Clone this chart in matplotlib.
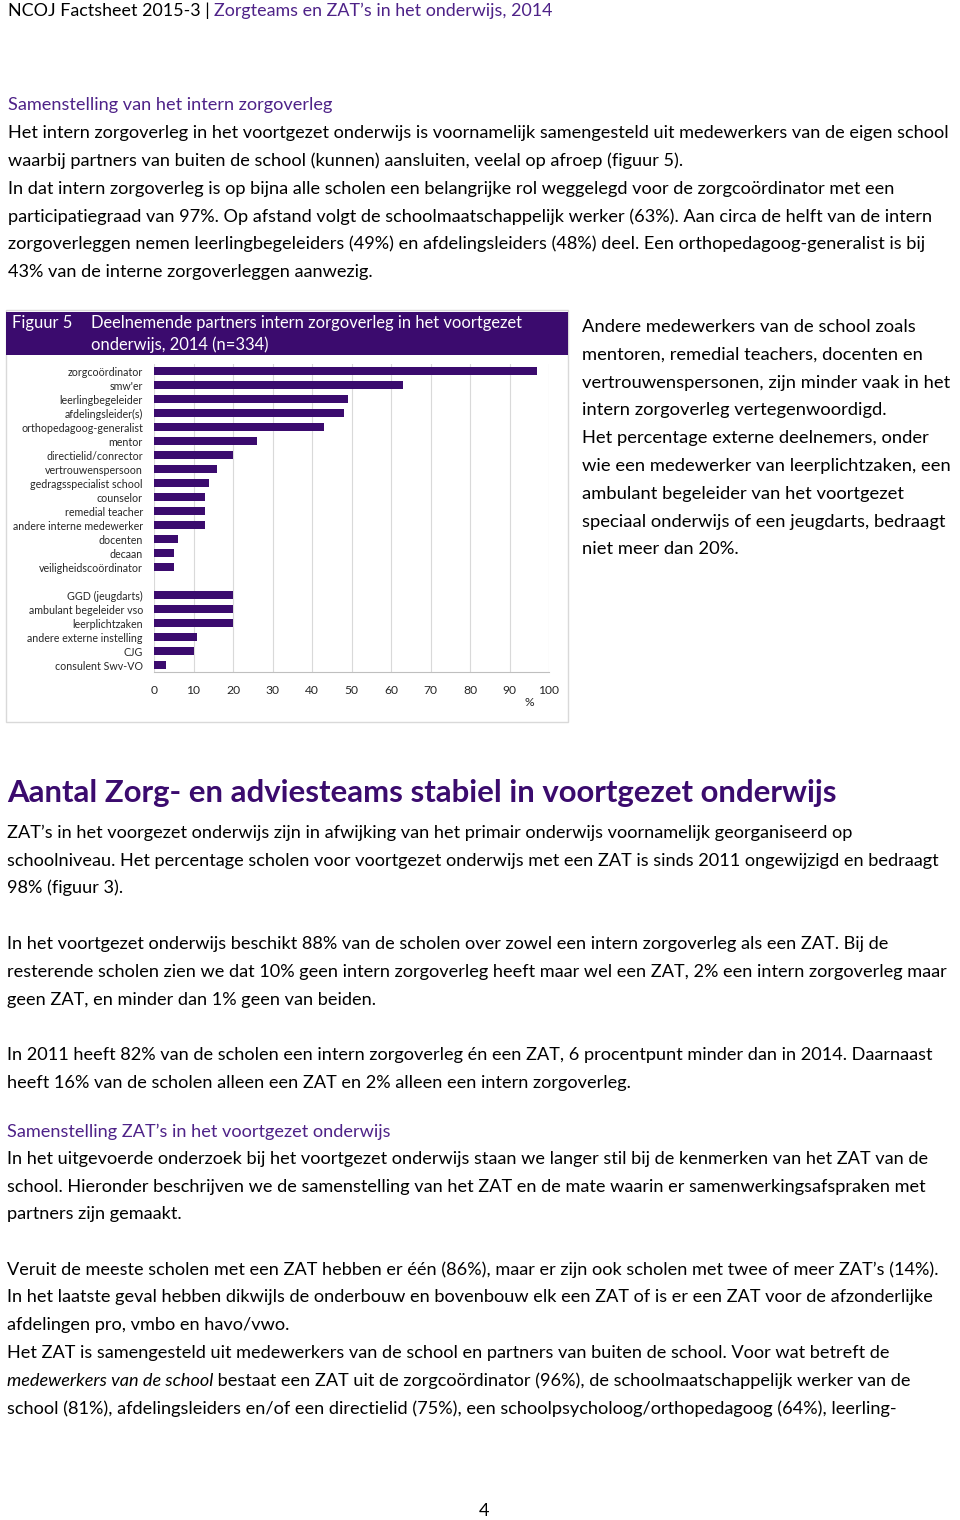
import numpy as np
import matplotlib
matplotlib.use("Agg")
import matplotlib.pyplot as plt
from matplotlib.patches import Rectangle

plt.rcParams['font.family'] = ['Lato', 'DejaVu Sans']

# chart data (percent of schools, figuur 5)
intern_labels = ["zorgcoördinator", "smw'er", "leerlingbegeleider", "afdelingsleider(s)",
                 "orthopedagoog-generalist", "mentor", "directielid/conrector",
                 "vertrouwenspersoon", "gedragsspecialist school", "counselor",
                 "remedial teacher", "andere interne medewerker", "docenten", "decaan",
                 "veiligheidscoördinator"]
intern_values = [97, 63, 49, 48, 43, 26, 20, 16, 14, 13, 13, 13, 6, 5, 5]
extern_labels = ["GGD (jeugdarts)", "ambulant begeleider vso", "leerplichtzaken",
                 "andere externe instelling", "CJG", "consulent Swv-VO"]
extern_values = [20, 20, 20, 11, 10, 3]
x_ticks = [0, 10, 20, 30, 40, 50, 60, 70, 80, 90, 100]

PURPLE = '#3B0B6E'
SUB = '#4E2288'
W, H = 960, 1520
BODY = 13.1

fig = plt.figure(figsize=(W / 100, H / 100), dpi=100)
fig.patch.set_facecolor('white')


def fx(x):
    return x / W


def fy(y):
    return 1 - y / H


def txt(x, y, s, size=BODY, color='black', **kw):
    return fig.text(fx(x), fy(y), s, fontsize=size, color=color, va='center', ha=kw.pop('ha', 'left'), **kw)


def runs(x, y, parts, size=BODY):
    # draw pieces of one line one after another
    r = fig.canvas.get_renderer()
    for s, color, style in parts:
        t = txt(x, y, s, size=size, color=color, style=style)
        bb = t.get_window_extent(renderer=r)
        x += bb.width


# header
runs(8, 11, [("NCOJ Factsheet 2015-3 | ", 'black', 'normal'),
             ("Zorgteams en ZAT’s in het onderwijs, 2014", SUB, 'normal')], size=12.9)

txt(8, 105, "Samenstelling van het intern zorgoverleg", color=SUB)
para1 = [
    "Het intern zorgoverleg in het voortgezet onderwijs is voornamelijk samengesteld uit medewerkers van de eigen school",
    "waarbij partners van buiten de school (kunnen) aansluiten, veelal op afroep (figuur 5).",
    "In dat intern zorgoverleg is op bijna alle scholen een belangrijke rol weggelegd voor de zorgcoördinator met een",
    "participatiegraad van 97%. Op afstand volgt de schoolmaatschappelijk werker (63%). Aan circa de helft van de intern",
    "zorgoverleggen nemen leerlingbegeleiders (49%) en afdelingsleiders (48%) deel. Een orthopedagoog-generalist is bij",
    "43% van de interne zorgoverleggen aanwezig.",
]
for i, s in enumerate(para1):
    txt(8, 133 + i * 27.8, s)

# right column
side = [
    "Andere medewerkers van de school zoals",
    "mentoren, remedial teachers, docenten en",
    "vertrouwenspersonen, zijn minder vaak in het",
    "intern zorgoverleg vertegenwoordigd.",
    "Het percentage externe deelnemers, onder",
    "wie een medewerker van leerplichtzaken, een",
    "ambulant begeleider van het voortgezet",
    "speciaal onderwijs of een jeugdarts, bedraagt",
    "niet meer dan 20%.",
]
for i, s in enumerate(side):
    txt(582, 327 + i * 27.8, s, size=13.2)

# figure frame and title band
fig.patches.append(Rectangle((fx(6), fy(722)), fx(562), 412 / H, transform=fig.transFigure,
                             facecolor='none', edgecolor='#D9D9D9', lw=1))
fig.patches.append(Rectangle((fx(6), fy(355)), fx(562), 43 / H, transform=fig.transFigure,
                             facecolor=PURPLE, edgecolor='none'))
txt(12, 323, "Figuur 5", size=11.9, color='white')
txt(91, 323, "Deelnemende partners intern zorgoverleg in het voortgezet", size=11.9, color='white')
txt(91, 345, "onderwijs, 2014 (n=334)", size=11.9, color='white')

labels = intern_labels + [""] + extern_labels
values = intern_values + [0] + extern_values
pos = np.arange(len(labels))

ax = fig.add_axes([fx(154), fy(672), fx(549 - 154), (672 - 364) / H])
ax.barh(pos, values, height=0.6, color=PURPLE, zorder=3)
ax.set_ylim(len(labels) - 0.5, -0.5)
ax.set_xlim(0, 100)
ax.set_xticks(x_ticks)
ax.set_yticks(pos)
ax.set_yticklabels(labels, fontsize=7.7, color='#262626')
ax.tick_params(axis='y', length=0, pad=8)
ax.tick_params(axis='x', length=0, pad=9, labelsize=8.7, labelcolor='#262626')
ax.grid(axis='x', color='#D9D9D9', lw=0.8, zorder=0)
for side_name in ['top', 'right', 'left']:
    ax.spines[side_name].set_visible(False)
ax.spines['bottom'].set_color('#BFBFBF')
ax.set_facecolor('none')
txt(529, 703, "%", size=8.7, color='#262626', ha='center')

# second part of the page
fig.text(fx(7), fy(793), "Aantal Zorg- en adviesteams stabiel in voortgezet onderwijs",
         fontsize=22.4, fontweight='bold', color=PURPLE, va='center')

para2 = [
    (833, "ZAT’s in het voorgezet onderwijs zijn in afwijking van het primair onderwijs voornamelijk georganiseerd op"),
    (861, "schoolniveau. Het percentage scholen voor voortgezet onderwijs met een ZAT is sinds 2011 ongewijzigd en bedraagt"),
    (888, "98% (figuur 3)."),
    (944, "In het voortgezet onderwijs beschikt 88% van de scholen over zowel een intern zorgoverleg als een ZAT. Bij de"),
    (972, "resterende scholen zien we dat 10% geen intern zorgoverleg heeft maar wel een ZAT, 2% een intern zorgoverleg maar"),
    (1000, "geen ZAT, en minder dan 1% geen van beiden."),
    (1055, "In 2011 heeft 82% van de scholen een intern zorgoverleg én een ZAT, 6 procentpunt minder dan in 2014. Daarnaast"),
    (1083, "heeft 16% van de scholen alleen een ZAT en 2% alleen een intern zorgoverleg."),
    (1159, "In het uitgevoerde onderzoek bij het voortgezet onderwijs staan we langer stil bij de kenmerken van het ZAT van de"),
    (1187, "school. Hieronder beschrijven we de samenstelling van het ZAT en de mate waarin er samenwerkingsafspraken met"),
    (1214, "partners zijn gemaakt."),
    (1270, "Veruit de meeste scholen met een ZAT hebben er één (86%), maar er zijn ook scholen met twee of meer ZAT’s (14%)."),
    (1297, "In het laatste geval hebben dikwijls de onderbouw en bovenbouw elk een ZAT of is er een ZAT voor de afzonderlijke"),
    (1325, "afdelingen pro, vmbo en havo/vwo."),
    (1353, "Het ZAT is samengesteld uit medewerkers van de school en partners van buiten de school. Voor wat betreft de"),
    (1409, "school (81%), afdelingsleiders en/of een directielid (75%), een schoolpsycholoog/orthopedagoog (64%), leerling-"),
]
for y, s in para2:
    txt(7, y, s)
txt(7, 1132, "Samenstelling ZAT’s in het voortgezet onderwijs", color=SUB)
runs(7, 1381, [("medewerkers van de school", 'black', 'italic'),
               (" bestaat een ZAT uit de zorgcoördinator (96%), de schoolmaatschappelijk werker van de", 'black', 'normal')])

txt(484, 1511, "4", ha='center')

fig.savefig("out.png", dpi=100)
